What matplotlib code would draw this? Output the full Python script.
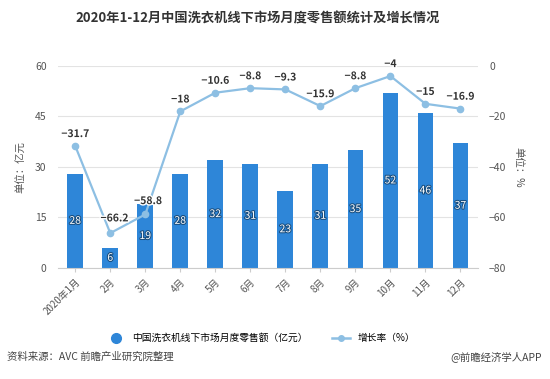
import matplotlib
matplotlib.use('Agg')
import matplotlib.pyplot as plt
import matplotlib.patheffects as pe

plt.rcParams['font.family'] = ['Noto Sans CJK SC', 'DejaVu Sans']

# data
months = ['2020年1月', '2月', '3月', '4月', '5月', '6月', '7月', '8月', '9月', '10月', '11月', '12月']
sales = [28, 6, 19, 28, 32, 31, 23, 31, 35, 52, 46, 37]
growth = [-31.7, -66.2, -58.8, -18, -10.6, -8.8, -9.3, -15.9, -8.8, -4, -15, -16.9]

bar_color = '#2e86d8'
line_color = '#8dbfe3'
grey = '#555555'

fig = plt.figure(figsize=(5.5, 3.79), dpi=100)
ax = fig.add_axes([0.105, 0.293, 0.764, 0.533])
ax2 = ax.twinx()

x = range(len(months))
bars = ax.bar(x, sales, width=0.45, color=bar_color, zorder=2)
for xi, v in zip(x, sales):
    ax.text(xi, v / 2, str(v), ha='center', va='center', fontsize=7.5, color='white',
            path_effects=[pe.withStroke(linewidth=1.5, foreground='#1a4f80')], zorder=3)

ax.set_ylim(0, 60)
ax.set_yticks([0, 15, 30, 45, 60])
ax.set_xlim(-0.5, 11.5)
ax.set_xticks(list(x))
ax.set_xticklabels(months, rotation=45, ha='right', rotation_mode='anchor', fontsize=7, color=grey)
ax.tick_params(axis='y', length=0, labelsize=7.5, labelcolor=grey, pad=8)
ax.tick_params(axis='x', length=3, color='#cccccc')
ax.grid(axis='y', color='#e3e3e3', linewidth=0.8, zorder=0)
ax.set_axisbelow(True)
for s in ['top', 'left', 'right']:
    ax.spines[s].set_visible(False)
ax.spines['bottom'].set_color('#cccccc')
ax.set_ylabel('单位：亿元', fontsize=7.5, color=grey, labelpad=6)

ax2.plot(list(x), growth, color=line_color, linewidth=1.6, marker='o', markersize=4.5, zorder=4)
# nudge the two crowded labels near the dip
offsets = {1: (3, 7), 2: (2, 6)}
for xi, v in zip(x, growth):
    lbl = f'{v:g}'.replace('-', '−')
    ax2.annotate(lbl, (xi, v), textcoords='offset points', xytext=offsets.get(xi, (0, 5)),
                 ha='center', va='bottom', fontsize=7.5, fontweight='bold', color='#333333',
                 path_effects=[pe.withStroke(linewidth=2, foreground='white')], zorder=5)
ax2.set_ylim(-80, 0)
ax2.set_yticks([-80, -60, -40, -20, 0])
ax2.tick_params(axis='y', length=0, labelsize=7.5, labelcolor=grey, pad=8)
for s in ['top', 'left', 'right', 'bottom']:
    ax2.spines[s].set_visible(False)
ax2.set_ylabel('单位：%', fontsize=7.5, color=grey, rotation=-90, labelpad=12)

fig.suptitle('2020年1-12月中国洗衣机线下市场月度零售额统计及增长情况', x=0.468, y=0.97,
             fontsize=9.5, fontweight='bold', color='#333333')

h1 = plt.Line2D([], [], color=bar_color, marker='o', linestyle='none', markersize=7)
h2 = plt.Line2D([], [], color=line_color, marker='o', linewidth=1.8, markersize=4)
fig.legend([h1, h2], ['中国洗衣机线下市场月度零售额（亿元）', '增长率（%）'],
           loc='center', bbox_to_anchor=(0.475, 0.108), ncol=2, frameon=False,
           fontsize=7, handlelength=1.8, columnspacing=2.5)

fig.text(0.012, 0.058, '资料来源：AVC 前瞻产业研究院整理', fontsize=7.5, color='#444444', va='center')
fig.text(0.985, 0.058, '@前瞻经济学人APP', fontsize=7.5, color='#444444', va='center', ha='right')

fig.savefig('out.png', dpi=100)
